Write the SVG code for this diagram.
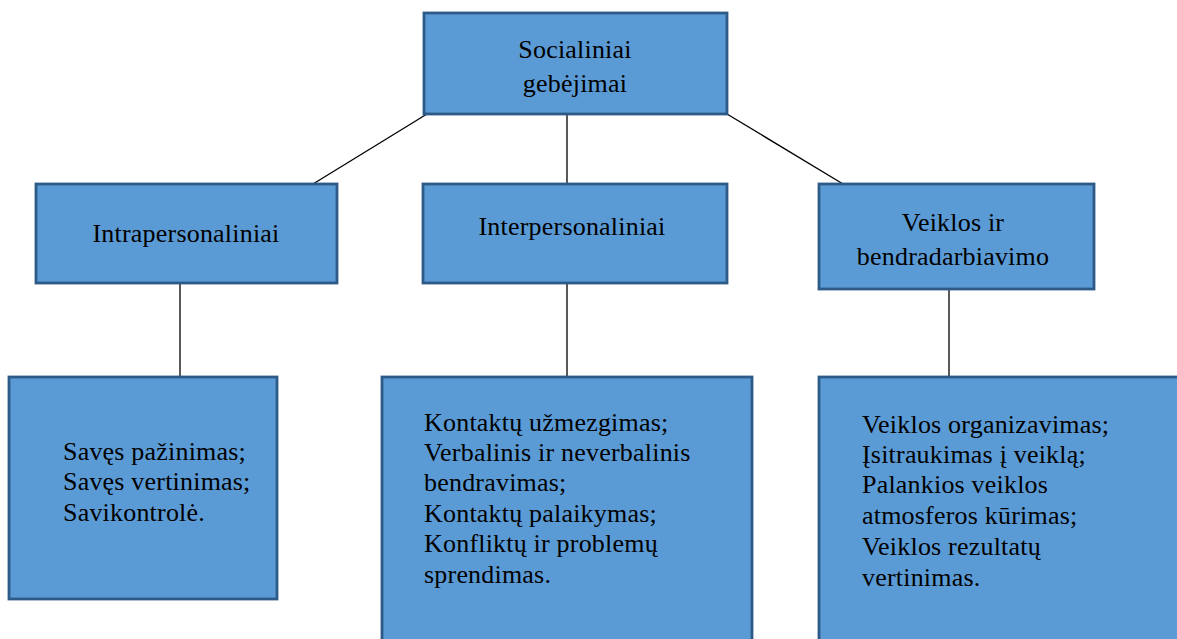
<svg xmlns="http://www.w3.org/2000/svg" width="1177" height="639" viewBox="0 0 1177 639">
  <style>
    .box { fill: #5B9BD5; stroke: #2E5A88; stroke-width: 2.8; }
    .lbl { font-family: "Liberation Serif", "Times New Roman", serif; font-size: 26px; letter-spacing: 0.2px; fill: #000; }
    .mid { text-anchor: middle; }
    .edge { stroke: #000; stroke-width: 1.3; fill: none; }
  </style>

  <!-- connectors -->
  <g id="connectors">
    <line class="edge" x1="427" y1="114" x2="313" y2="184"/>
    <line class="edge" x1="567" y1="114" x2="567" y2="184"/>
    <line class="edge" x1="727" y1="114" x2="843" y2="184"/>
    <line class="edge" x1="180" y1="283" x2="180" y2="377"/>
    <line class="edge" x1="567" y1="283" x2="567" y2="377"/>
    <line class="edge" x1="949" y1="289" x2="949" y2="377"/>
  </g>

  <!-- root -->
  <g id="node-social">
    <rect class="box" x="424" y="13" width="303" height="101"/>
    <text class="lbl mid" x="575" y="58">Socialiniai</text>
    <text class="lbl mid" x="575" y="92">gebėjimai</text>
  </g>

  <!-- second level -->
  <g id="node-intra">
    <rect class="box" x="36" y="184" width="301" height="99"/>
    <text class="lbl mid" x="186" y="242">Intrapersonaliniai</text>
  </g>
  <g id="node-inter">
    <rect class="box" x="423" y="184" width="304" height="99"/>
    <text class="lbl mid" x="572" y="235">Interpersonaliniai</text>
  </g>
  <g id="node-veikla">
    <rect class="box" x="819" y="184" width="275" height="105"/>
    <text class="lbl mid" x="953" y="231">Veiklos ir</text>
    <text class="lbl mid" x="953" y="265">bendradarbiavimo</text>
  </g>

  <!-- third level -->
  <g id="node-intra-list">
    <rect class="box" x="9" y="377" width="268" height="222"/>
    <text class="lbl" x="63" y="460">Savęs pažinimas;</text>
    <text class="lbl" x="63" y="490">Savęs vertinimas;</text>
    <text class="lbl" x="63" y="521">Savikontrolė.</text>
  </g>
  <g id="node-inter-list">
    <rect class="box" x="382" y="377" width="370" height="275"/>
    <text class="lbl" x="424" y="431">Kontaktų užmezgimas;</text>
    <text class="lbl" x="424" y="461">Verbalinis ir neverbalinis</text>
    <text class="lbl" x="424" y="491">bendravimas;</text>
    <text class="lbl" x="424" y="522">Kontaktų palaikymas;</text>
    <text class="lbl" x="424" y="552">Konfliktų ir problemų</text>
    <text class="lbl" x="424" y="583">sprendimas.</text>
  </g>
  <g id="node-veikla-list">
    <rect class="box" x="819" y="377" width="370" height="275"/>
    <text class="lbl" x="862" y="433">Veiklos organizavimas;</text>
    <text class="lbl" x="862" y="463">Įsitraukimas į veiklą;</text>
    <text class="lbl" x="862" y="493">Palankios veiklos</text>
    <text class="lbl" x="862" y="524">atmosferos kūrimas;</text>
    <text class="lbl" x="862" y="555">Veiklos rezultatų</text>
    <text class="lbl" x="862" y="586">vertinimas.</text>
  </g>
</svg>
